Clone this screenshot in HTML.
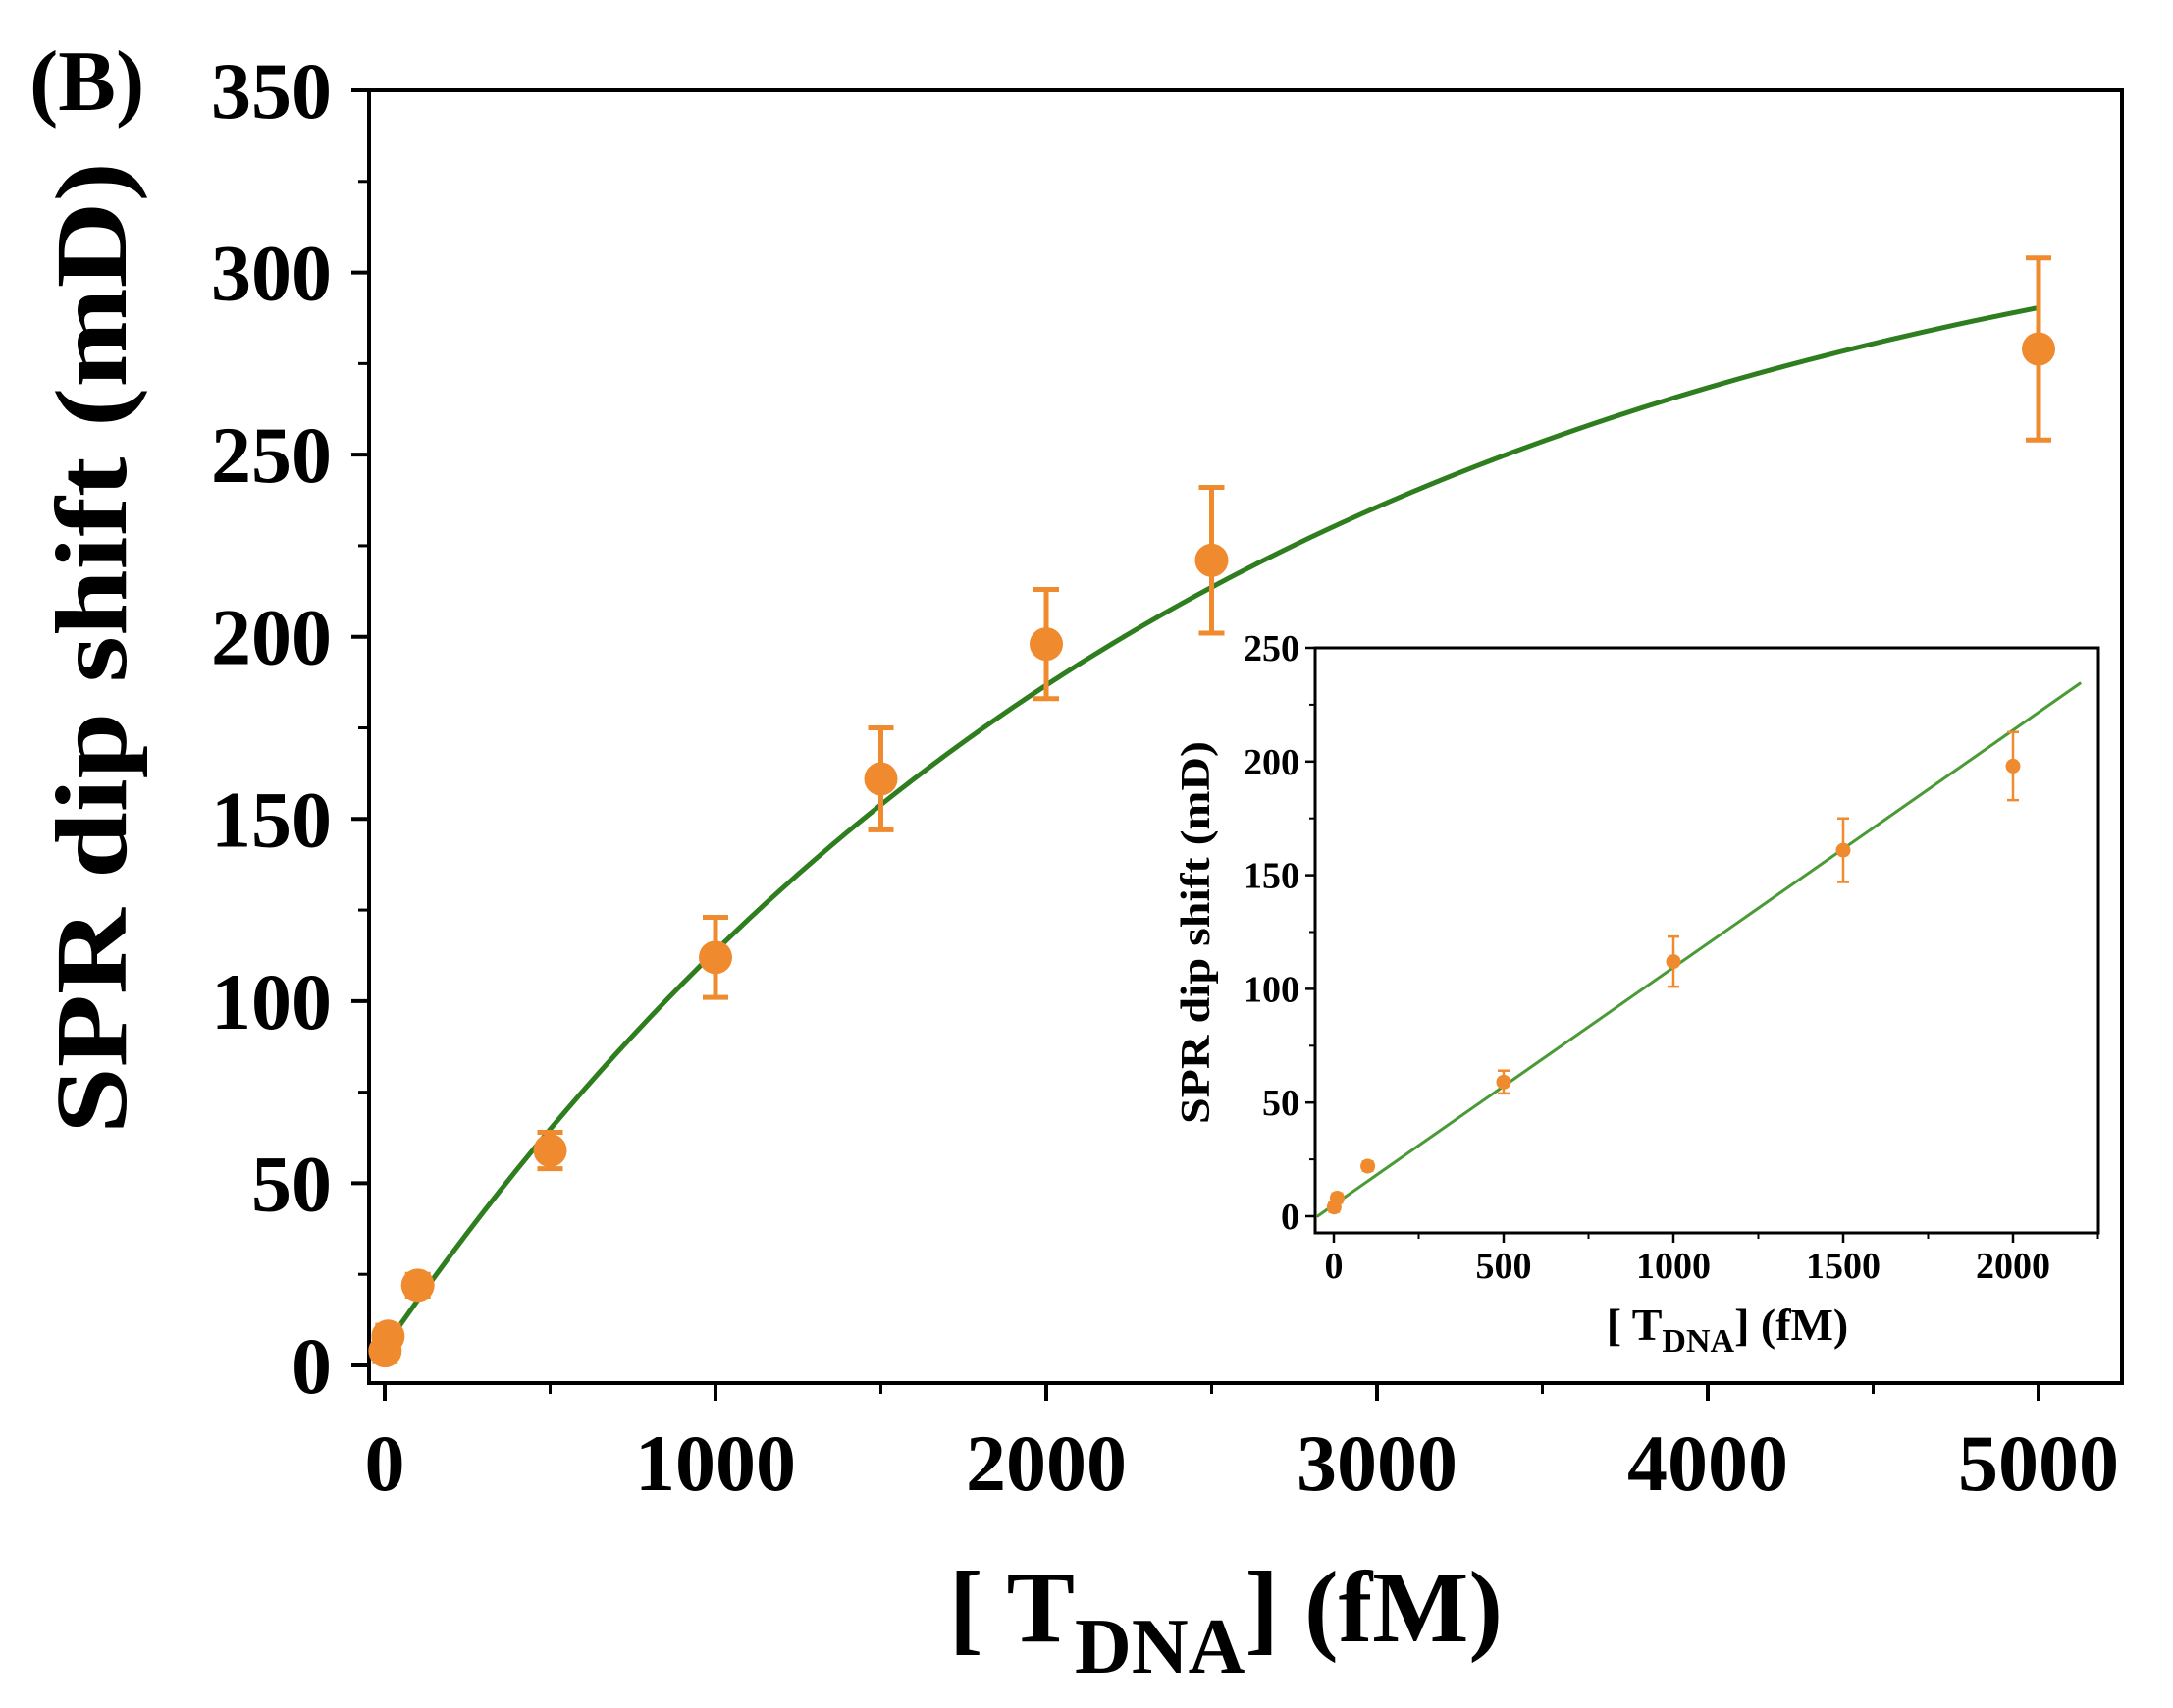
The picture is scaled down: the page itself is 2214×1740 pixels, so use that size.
<!DOCTYPE html>
<html><head><meta charset="utf-8"><style>
html,body{margin:0;padding:0;background:#fff;}
svg{display:block;font-family:"Liberation Serif",serif;font-weight:bold;}
</style></head><body>
<svg id="chart" width="2214" height="1740" viewBox="0 0 2214 1740" xmlns="http://www.w3.org/2000/svg">
<rect width="2214" height="1740" fill="#fff"/>
<text x="30" y="112" font-size="88">(B)</text>
<g id="main"></g>
<g id="inset"></g>
<text transform="translate(128,660) rotate(-90)" text-anchor="middle" font-size="104" textLength="990" lengthAdjust="spacingAndGlyphs">SPR dip shift (mD)</text>
<text x="1249" y="1672" text-anchor="middle" font-size="104">[ T<tspan font-size="80" dy="32">DNA</tspan><tspan dy="-32">]  (fM)</tspan></text>
</svg>
<script>
const xData=[1,10,100,500,1000,1500,2000,2500,5000];
const yData=[4,8,22,59,112,161,198,221,279];
const yErr=[3,3,3,5,11,14,15,20,25];
const xTicks=[0,1000,2000,3000,4000,5000];
const yTicks=[0,50,100,150,200,250,300,350];
const fitParams=[330,2500,5]; // A, k, c : y=c+A(1-exp(-x/k))
const insetX=[1,10,100,500,1000,1500,2000];
const insetY=[4,8,22,59,112,161,198];
const insetErr=[2,2,2,5,11,14,15];
const insetXTicks=[0,500,1000,1500,2000];
const insetYTicks=[0,50,100,150,200,250];
const insetLine=[0.1044,5]; // slope, intercept

const NS="http://www.w3.org/2000/svg";
function mk(parent,tag,attrs){const e=document.createElementNS(NS,tag);for(const k in attrs)e.setAttribute(k,attrs[k]);parent.appendChild(e);return e;}

const M=document.getElementById('main');
const mx=v=>392+(2077-392)*v/5000;
const my=v=>1391-(1391-92)*v/350;
let r=mk(M,'rect',{x:376,y:92,width:1786,height:1317,fill:'none',stroke:'#000','stroke-width':4});


xTicks.forEach(t=>{
 let l=mk(M,'line',{x1:mx(t),x2:mx(t),y1:1409,y2:1427,stroke:'#000','stroke-width':4});
 
 
 let m=mk(M,'line',{x1:mx(t+500),x2:mx(t+500),y1:1409,y2:1420,stroke:'#000','stroke-width':3});
 
 
 let tx=mk(M,'text',{x:mx(t),y:1518,'text-anchor':'middle','font-size':82});
 tx.textContent=t;
 
 
});
yTicks.forEach(t=>{
 let l=mk(M,'line',{x1:358,x2:376,y1:my(t),y2:my(t),stroke:'#000','stroke-width':4});
 
 
 if(t<350){let m=mk(M,'line',{x1:365,x2:376,y1:my(t+25),y2:my(t+25),stroke:'#000','stroke-width':3});
 
 }
 let tx=mk(M,'text',{x:338,y:my(t)+28,'text-anchor':'end','font-size':82});
 tx.textContent=t;
 
 
});
let pts=[];for(let x=0;x<=5000;x+=50){pts.push(mx(x)+','+my(fitParams[2]+fitParams[0]*(1-Math.exp(-x/fitParams[1]))));}
let fit=mk(M,'polyline',{points:pts.join(' '),fill:'none',stroke:'#2e7d1e','stroke-width':5});


xData.forEach((x,i)=>{
 const cx=mx(x),y1=my(yData[i]+yErr[i]),y2=my(yData[i]-yErr[i]);
 let e=mk(M,'path',{d:`M${cx},${y1}V${y2}M${cx-13},${y1}H${cx+13}M${cx-13},${y2}H${cx+13}`,stroke:'#ef8a2e','stroke-width':5,fill:'none'});
 
 
 let c=mk(M,'circle',{cx:cx,cy:my(yData[i]),r:17,fill:'#ef8a2e'});
 
 
});

const I=document.getElementById('inset');
const ix=v=>1359+(2051-1359)*v/2000;
const iy=v=>1239-(1239-660)*v/250;
let ib=mk(I,'rect',{x:1340,y:660,width:798,height:596,fill:'#fff',stroke:'#000','stroke-width':3});


insetXTicks.forEach(t=>{
 let l=mk(I,'line',{x1:ix(t),x2:ix(t),y1:1256,y2:1266,stroke:'#000','stroke-width':2.5});
 
 
 let m=mk(I,'line',{x1:ix(t+250),x2:ix(t+250),y1:1256,y2:1262,stroke:'#000','stroke-width':2});
 
 
 let tx=mk(I,'text',{x:ix(t),y:1302,'text-anchor':'middle','font-size':38});
 tx.textContent=t;
 
 
});
insetYTicks.forEach(t=>{
 let l=mk(I,'line',{x1:1330,x2:1340,y1:iy(t),y2:iy(t),stroke:'#000','stroke-width':2.5});
 
 
 if(t<250){let m=mk(I,'line',{x1:1334,x2:1340,y1:iy(t+25),y2:iy(t+25),stroke:'#000','stroke-width':2});
 
 }
 let tx=mk(I,'text',{x:1324,y:iy(t)+13,'text-anchor':'end','font-size':38});
 tx.textContent=t;
 
 
});
let ln=mk(I,'line',{x1:ix(-50),y1:iy(insetLine[1]-50*insetLine[0]),x2:ix(2200),y2:iy(insetLine[1]+2200*insetLine[0]),stroke:'#4a9a35','stroke-width':3});


insetX.forEach((x,i)=>{
 const cx=ix(x),y1=iy(insetY[i]+insetErr[i]),y2=iy(insetY[i]-insetErr[i]);
 let e=mk(I,'path',{d:`M${cx},${y1}V${y2}M${cx-6},${y1}H${cx+6}M${cx-6},${y2}H${cx+6}`,stroke:'#ef8a2e','stroke-width':2.5,fill:'none'});
 
 
 let c=mk(I,'circle',{cx:cx,cy:iy(insetY[i]),r:7.5,fill:'#ef8a2e'});
 
 
});
let yt=mk(I,'text',{transform:'translate(1232,950) rotate(-90)','text-anchor':'middle','font-size':42,textLength:390,lengthAdjust:'spacingAndGlyphs'});
yt.textContent='SPR dip shift (mD)';


let xt=mk(I,'text',{x:1760,y:1365,'text-anchor':'middle','font-size':46});
xt.innerHTML='[ T<tspan font-size="34" dy="12">DNA</tspan><tspan dy="-12">]  (fM)</tspan>';


</script>
</body></html>
